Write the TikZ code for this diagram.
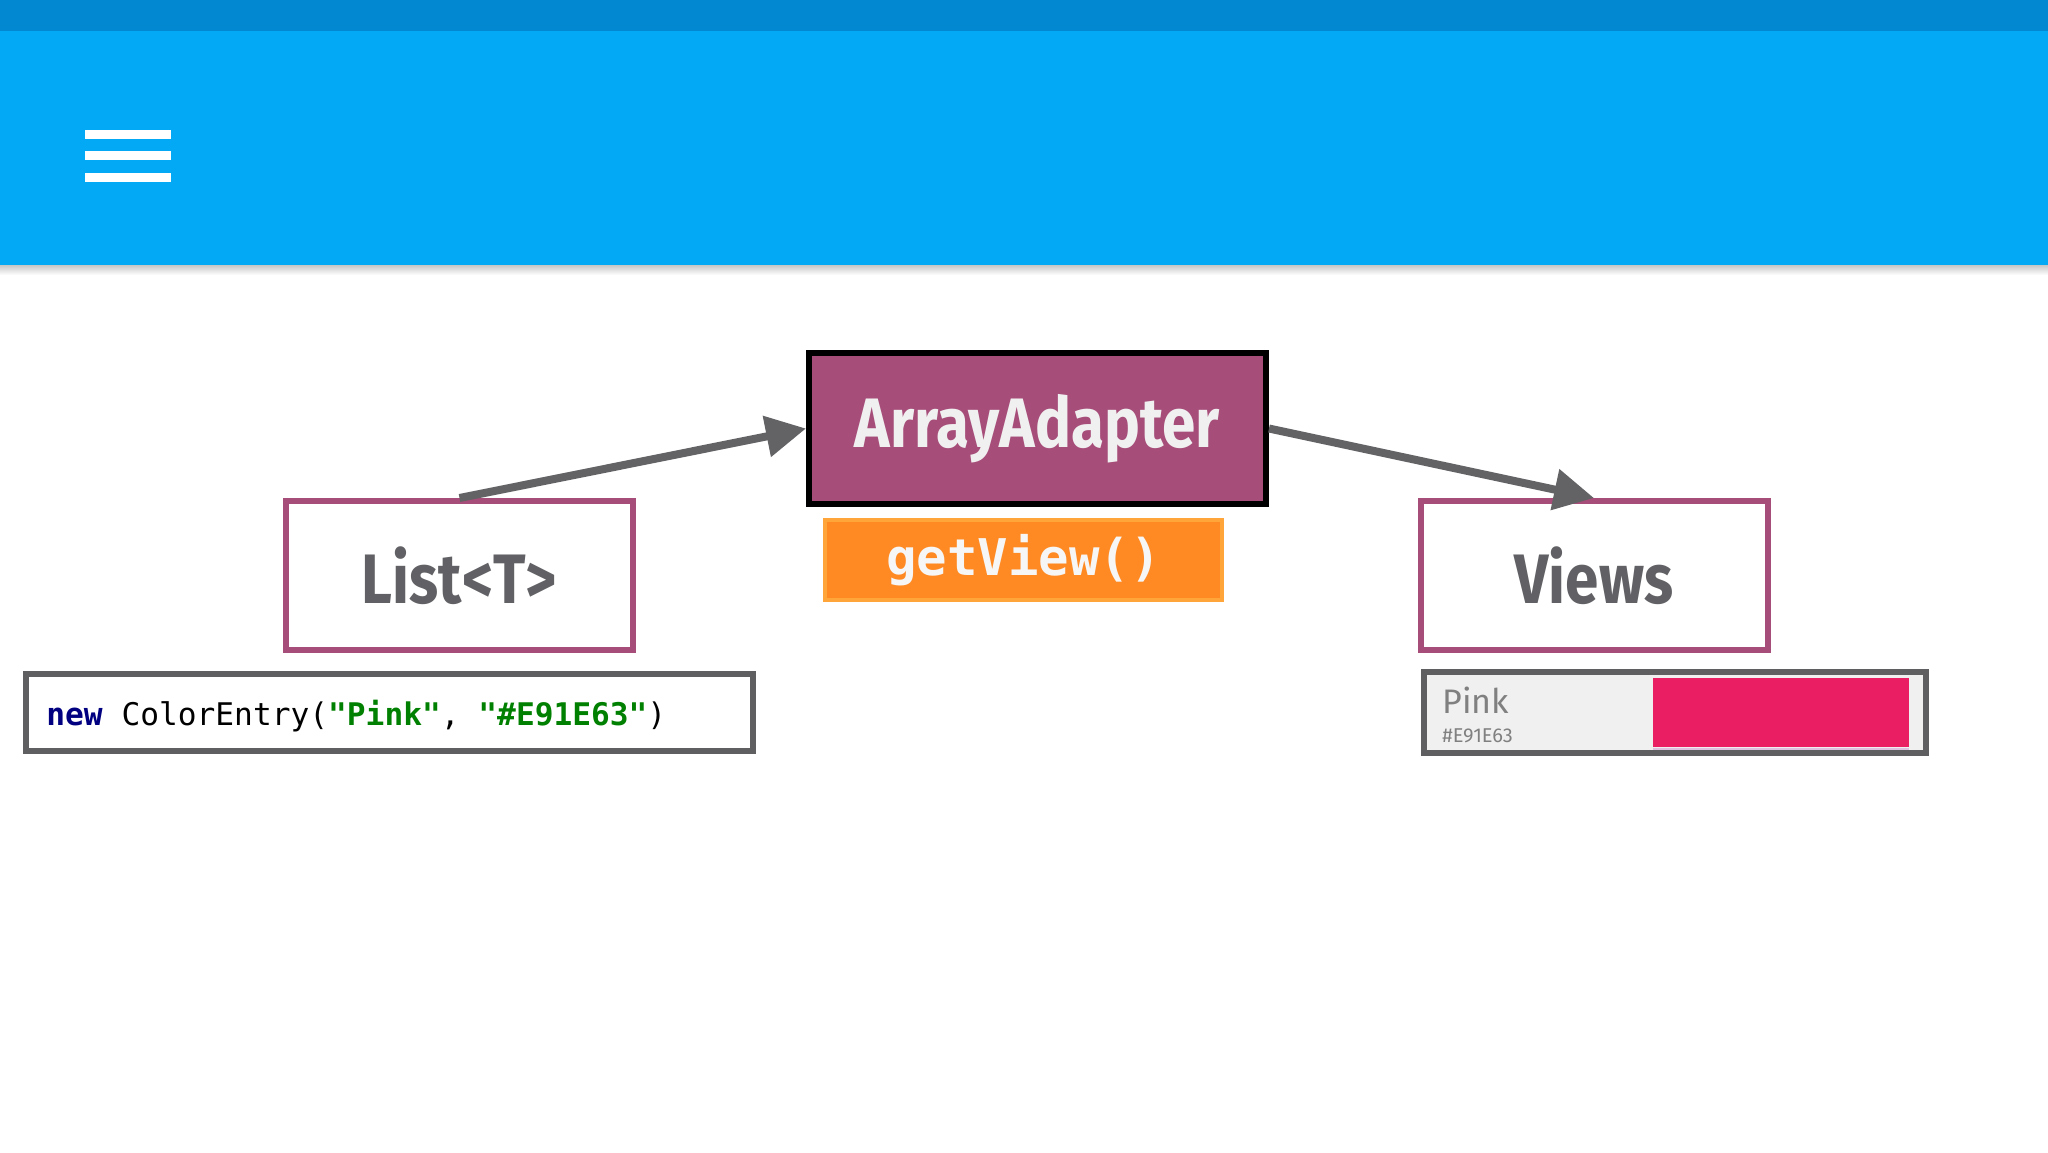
\documentclass[tikz,border=0pt]{standalone}
\usepackage{fontspec}
\usepackage{tikz}
\usetikzlibrary{positioning,arrows.meta}
\setmainfont{Fira Sans}
\newfontfamily\condfont[FakeStretch=0.86]{Fira Sans}
\newfontfamily\codefont{DejaVu Sans Mono}
\definecolor{barblue}{HTML}{03A9F4}
\definecolor{bardark}{HTML}{0288D1}
\definecolor{adapter}{HTML}{A64D79}
\definecolor{labelgray}{HTML}{616165}
\definecolor{arrowgray}{HTML}{636366}
\definecolor{viewgray}{HTML}{5F5F62}
\definecolor{getorange}{HTML}{FF8A24}
\definecolor{getborder}{HTML}{FFA53A}
\definecolor{entrypink}{HTML}{E91E63}
\definecolor{kwnavy}{HTML}{000080}
\definecolor{strgreen}{HTML}{008000}

\begin{document}
\begin{tikzpicture}[x=0.5pt, y=-0.5pt, inner sep=0pt,
    classbox/.style={draw=adapter, line width=3pt, fill=white,
      minimum width=173.5pt, minimum height=74.5pt,
      font=\condfont\bfseries\fontsize{35}{40}\selectfont, text=labelgray},
    codebox/.style={draw=viewgray, line width=3pt, fill=white},
    flow/.style={draw=arrowgray, line width=4pt, -{Triangle[length=20pt,width=20pt]}}]
  \useasboundingbox (0,0) rectangle (2048,1152);
  \fill[white] (0,0) rectangle (2048,1152);
  % app bar
  \fill[barblue] (0,0) rectangle (2048,265);
  \fill[bardark] (0,0) rectangle (2048,31);
  \shade[top color=black!22, bottom color=white] (0,265) rectangle (2048,275);
  \foreach \y in {130,151,173}
    \fill[white] (85,\y) rectangle (171,\y+8.5);

  \node[classbox, draw=black, fill=adapter, text=white!88!gray,
        minimum width=228.5pt, minimum height=75.5pt] (adapter) at (1037.5,428.5) {ArrayAdapter};
  \node[draw=getborder, line width=2pt, fill=getorange, minimum width=198.5pt, minimum height=40pt,
        font=\codefont\bfseries\fontsize{25.3}{30}\selectfont, text=white!93!gray] (getview) at (1023.5,560) {getView()};
  \node[classbox] (list) at (459.5,575.5) {List<T>};
  \node[classbox] (views) at (1594,575.5) {Views};

  % the entry and its row
  \node[codebox, minimum width=363.5pt, minimum height=38.5pt] (entry) at (389.5,712.5) {};
  \node[anchor=base west, font=\codefont\fontsize{15.6}{18}\selectfont] (entrytxt) at (46,725)
    {{\bfseries\color{kwnavy}new} ColorEntry({\bfseries\color{strgreen}"Pink"}, {\bfseries\color{strgreen}"\#E91E63"})};
  \node[codebox, fill=gray!12, draw=viewgray, minimum width=251pt, minimum height=40.5pt] (row) at (1675,712.5) {};
  \fill[entrypink] (1653,678) rectangle (1909,747);
  \draw[violet!25, line width=1pt] (1653,749) -- (1909,749);
  \node[anchor=base west, font=\fontsize{17}{20}\selectfont, text=gray] (rowname) at (1442,713) {Pink};
  \node[anchor=base west, font=\fontsize{10}{12}\selectfont, text=gray] (rowhex) at (1442,742) {\#E91E63};

  \draw[flow] (list.north) -- (adapter.west);
  \draw[flow] (adapter.east) -- (views.north);
\end{tikzpicture}
\end{document}
